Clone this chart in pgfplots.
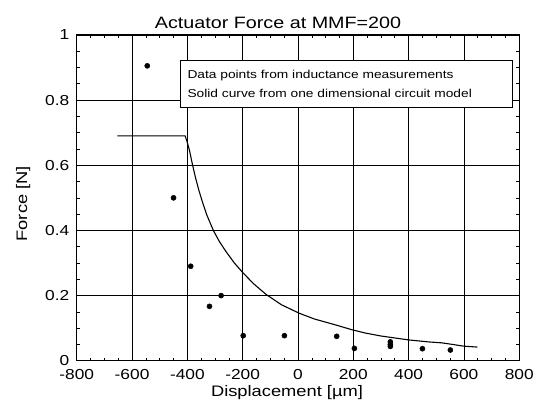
\documentclass[border=0pt]{standalone}
\usepackage{pgfplots}
\pgfplotsset{compat=1.18}
\usepackage{fontspec}
\setmainfont{Liberation Sans}[FakeStretch=1.2]
\begin{document}
\begin{tikzpicture}
\begin{axis}[
    scale only axis,
    width=444bp,
    height=327bp,
    xmin=-800, xmax=800,
    ymin=0, ymax=1,
    xtick={-800,-600,...,800},
    ytick={0,0.2,...,1},
    minor x tick num=3,
    minor y tick num=3,
    tick align=inside,
    major tick length=5bp,
    minor tick length=3bp,
    tick style={black, line width=0.6pt},
    grid=major,
    grid style={black, line width=0.6pt},
    axis line style={line width=0.8pt},
    /pgf/number format/assume math mode=true,
    yticklabel style={/pgf/number format/fixed, xshift=-4bp},
    xticklabel style={yshift=-5bp},
    tick label style={font=\fontsize{14.5bp}{16bp}\selectfont},
    label style={font=\fontsize{15.3bp}{17bp}\selectfont},
    title style={font=\fontsize{16.5bp}{18bp}\selectfont, yshift=-3bp, xshift=-20bp},
    title={Actuator Force at MMF=200},
    xlabel={Displacement [µm]},
    ylabel={Force [N]},
    xlabel style={yshift=1bp, xshift=-11bp},
    ylabel style={yshift=8bp, xshift=-6bp},
    clip=false,
]
% one dimensional circuit model
\addplot[black, line width=1.1pt] coordinates {
    (-653,0.69) (-408,0.69) (-401,0.672) (-393,0.648) (-381,0.600) (-370,0.560)
    (-358,0.522) (-345,0.486) (-330,0.448) (-318,0.424) (-306,0.400) (-285,0.367)
    (-261,0.336) (-230,0.300) (-198,0.269) (-160,0.236) (-116,0.204) (-60,0.172)
    (4,0.146) (60,0.128) (136,0.110) (196,0.095) (244,0.085) (300,0.076)
    (400,0.064) (470,0.058) (520,0.055) (560,0.050) (598,0.045) (649,0.042)
};
% inductance measurements
\addplot[only marks, mark=*, mark size=2.6pt, black] coordinates {
    (-545,0.905) (-450,0.50) (-388,0.29) (-320,0.167) (-278,0.20)
    (-198,0.077) (-49,0.077) (140,0.075) (204,0.038)
    (334,0.058) (334,0.050) (334,0.044) (450,0.037) (551,0.033)
};
\node[draw=black, line width=0.8pt, fill=white, anchor=north west,
      text width=319bp, minimum height=47bp, align=left,
      font=\fontsize{11.5bp}{18.5bp}\selectfont, inner xsep=7bp]
    at (axis cs:-426,0.922)
    {Data points from inductance measurements\\Solid curve from one dimensional circuit model};
\end{axis}
\path (current axis.south west)+(-77bp,-51bp) (current axis.north east)+(16bp,35bp);
\end{tikzpicture}
\end{document}
